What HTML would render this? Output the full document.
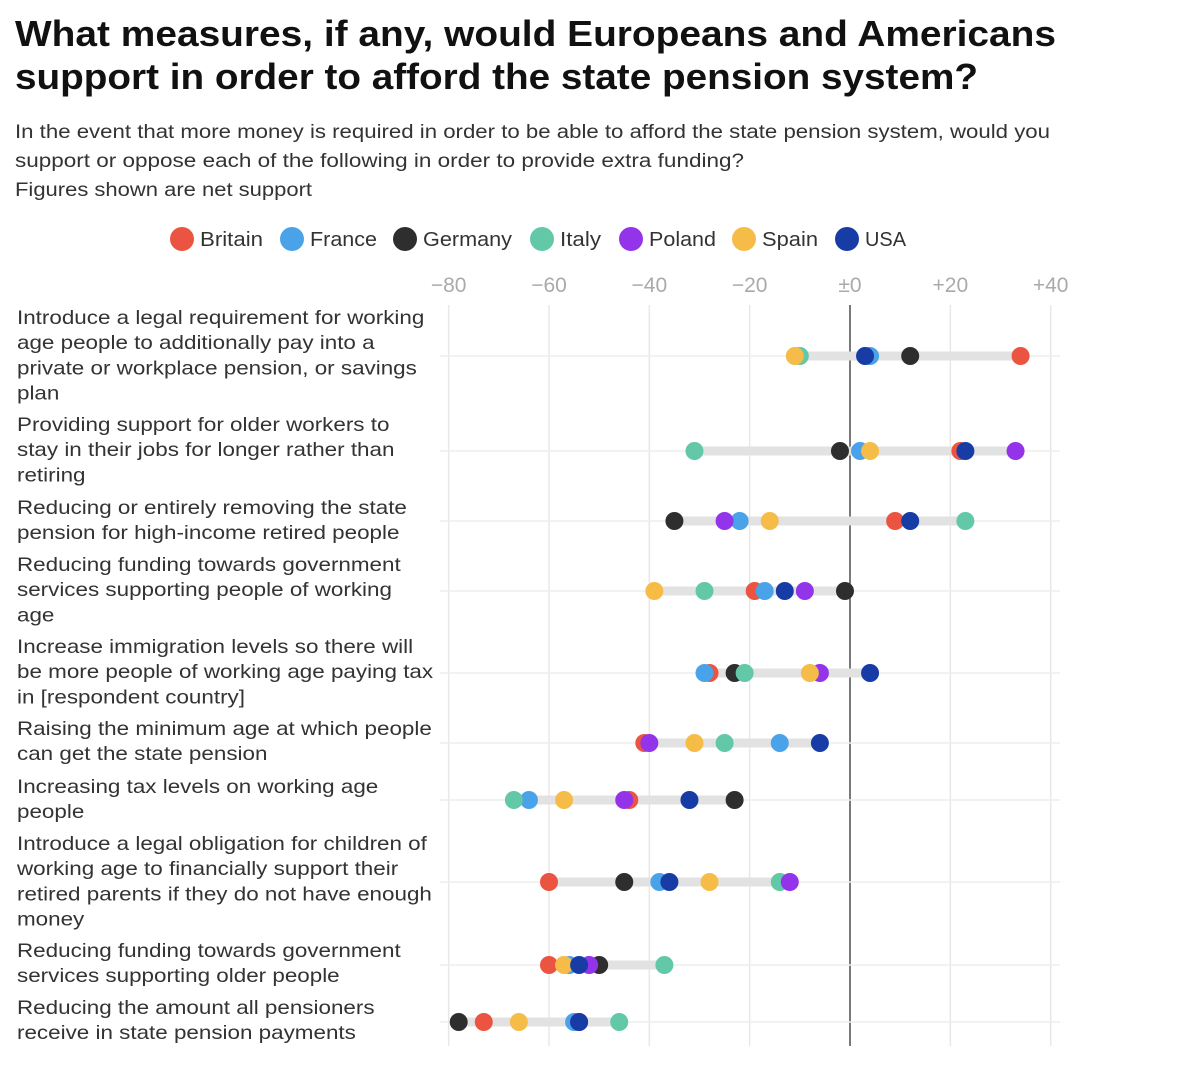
<!DOCTYPE html>
<html><head><meta charset="utf-8"><style>
body{margin:0;background:#fff;width:1202px;height:1076px;overflow:hidden}
svg{display:block;font-family:"Liberation Sans",sans-serif}
</style></head><body>
<svg width="1202" height="1076">
<text x="15" y="46" font-size="36" font-weight="bold" fill="#111" textLength="1041" lengthAdjust="spacingAndGlyphs">What measures, if any, would Europeans and Americans</text>
<text x="15" y="89" font-size="36" font-weight="bold" fill="#111" textLength="963" lengthAdjust="spacingAndGlyphs">support in order to afford the state pension system?</text>
<text x="15" y="138" font-size="19" fill="#333" textLength="1035" lengthAdjust="spacingAndGlyphs">In the event that more money is required in order to be able to afford the state pension system, would you</text>
<text x="15" y="167" font-size="19" fill="#333" textLength="729" lengthAdjust="spacingAndGlyphs">support or oppose each of the following in order to provide extra funding?</text>
<text x="15" y="196" font-size="19" fill="#333" textLength="297" lengthAdjust="spacingAndGlyphs">Figures shown are net support</text>
<g id="legend"></g>
<g id="grid"></g>
<g id="labels" transform="translate(17,0) scale(1.15,1) translate(-17,0)"></g>
<g id="marks"></g>
</svg>
<script>
const countries=["Britain","France","Germany","Italy","Poland","Spain","USA"];
const colors=["#ea5440","#4aa3e8","#2e2e2e","#62c8a8","#9333ea","#f5bd47","#173ca6"];
const ticks=[-80,-60,-40,-20,0,20,40];
const tickLabels=["−80","−60","−40","−20","±0","+20","+40"];
const questions=[
["Introduce a legal requirement for working","age people to additionally pay into a","private or workplace pension, or savings","plan"],
["Providing support for older workers to","stay in their jobs for longer rather than","retiring"],
["Reducing or entirely removing the state","pension for high-income retired people"],
["Reducing funding towards government","services supporting people of working","age"],
["Increase immigration levels so there will","be more people of working age paying tax","in [respondent country]"],
["Raising the minimum age at which people","can get the state pension"],
["Increasing tax levels on working age","people"],
["Introduce a legal obligation for children of","working age to financially support their","retired parents if they do not have enough","money"],
["Reducing funding towards government","services supporting older people"],
["Reducing the amount all pensioners","receive in state pension payments"]];
// values per country, one entry per question
const britain=[34,22,9,-19,-28,-41,-44,-60,-60,-73];
const france=[4,2,-22,-17,-29,-14,-64,-38,-56,-55];
const germany=[12,-2,-35,-1,-23,null,-23,-45,-50,-78];
const italy=[-10,-31,23,-29,-21,-25,-67,-14,-37,-46];
const poland=[null,33,-25,-9,-6,-40,-45,-12,-52,-54];
const spain=[-11,4,-16,-39,-8,-31,-57,-28,-57,-66];
const usa=[3,23,12,-13,4,-6,-32,-36,-54,-54];
const series=[britain,france,germany,italy,poland,spain,usa];
const rowY=[356,451,521,591,673,743,800,882,965,1022];
const x=v=>850+v*(602/120);
const NS="http://www.w3.org/2000/svg";
function mk(tag,attrs,parent){const e=document.createElementNS(NS,tag);for(const k in attrs)e.setAttribute(k,attrs[k]);parent.appendChild(e);return e;}
const legend=document.getElementById('legend'),grid=document.getElementById('grid'),labels=document.getElementById('labels'),marks=document.getElementById('marks');
const lx=[182,292,405,542,631,744,847];
const lw=[63,67,89,41,67,56,41];
countries.forEach((c,i)=>{
 const g=mk('g',{},legend);
 
 
 mk('circle',{cx:lx[i],cy:239,r:12,fill:colors[i]},g);
 const t=mk('text',{x:lx[i]+18,y:246,'font-size':20,fill:'#333',textLength:lw[i],lengthAdjust:'spacingAndGlyphs'},g);t.textContent=c;
});
ticks.forEach((t,i)=>{
 const l=mk('line',{x1:x(t),x2:x(t),y1:305,y2:1046,stroke:t===0?'#333':'#e8e8e8','stroke-width':t===0?1.3:1.5},grid);
 
 
 const tx=mk('text',{x:x(t),y:292,'font-size':21,fill:'#aaa','text-anchor':'middle'},grid);tx.textContent=tickLabels[i];
 
 
});
const starts=[317,424,507,564,646,728,786,843,950,1007];
questions.forEach((q,r)=>{
 const cy=rowY[r];
 q.forEach((line,j)=>{const t=mk('text',{x:17,y:starts[r]+j*25.2+7,'font-size':19.5,fill:'#333'},labels);t.textContent=line;
  
  });
 mk('line',{x1:440,x2:1060,y1:cy,y2:cy,stroke:'#eee','stroke-width':1.5},grid);
 const vals=series.map(s=>s[r]).filter(v=>v!==null);
 const rb=mk('line',{x1:x(Math.min(...vals)),x2:x(Math.max(...vals)),y1:cy,y2:cy,stroke:'#e2e2e2','stroke-width':9},marks);
 
 
 series.forEach((s,i)=>{if(s[r]===null)return;
  const c=mk('circle',{cx:x(s[r]),cy:cy,r:9,fill:colors[i]},marks);
  
  });
});
</script>
</body></html>
